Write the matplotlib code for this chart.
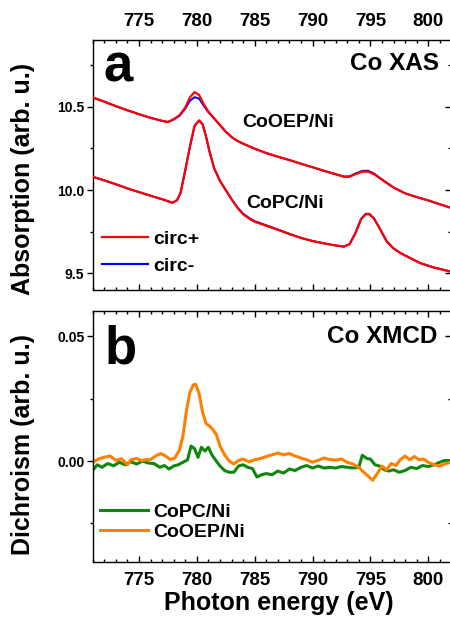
import numpy as np
import matplotlib
matplotlib.use("Agg")
import matplotlib.pyplot as plt
from matplotlib.ticker import MultipleLocator, FormatStrFormatter

plt.rcParams['font.family'] = ['Liberation Sans', 'DejaVu Sans']
plt.rcParams['font.weight'] = 'bold'

# ---- XAS (panel a) ----
e_oep = [771.0, 772.0, 773.0, 774.0, 775.0, 776.0, 777.0, 777.5, 778.0, 778.5,
         779.0, 779.4, 779.8, 780.2, 780.6, 781.0, 781.5, 782.0, 782.5, 783.0,
         783.5, 784.0, 785.0, 786.0, 787.0, 788.0, 789.0, 790.0, 791.0, 792.0,
         792.7, 793.2, 793.7, 794.3, 794.8, 795.3, 796.0, 797.0, 798.0, 799.0,
         800.0, 801.0, 802.0]
oep_plus = [10.555, 10.530, 10.503, 10.478, 10.455, 10.433, 10.415, 10.408, 10.425, 10.448,
            10.495, 10.555, 10.587, 10.570, 10.515, 10.470, 10.430, 10.390, 10.350, 10.318,
            10.295, 10.278, 10.248, 10.222, 10.200, 10.180, 10.158, 10.137, 10.115, 10.095,
            10.080, 10.080, 10.095, 10.110, 10.110, 10.096, 10.062, 10.015, 9.980, 9.958,
            9.938, 9.915, 9.893]
oep_minus = [10.555, 10.530, 10.503, 10.478, 10.455, 10.433, 10.415, 10.408, 10.423, 10.445,
             10.488, 10.535, 10.557, 10.548, 10.505, 10.466, 10.428, 10.389, 10.350, 10.318,
             10.295, 10.278, 10.248, 10.222, 10.200, 10.180, 10.158, 10.137, 10.115, 10.095,
             10.081, 10.082, 10.099, 10.115, 10.116, 10.100, 10.064, 10.016, 9.981, 9.958,
             9.938, 9.915, 9.893]

e_pc = [771.0, 772.0, 773.0, 774.0, 775.0, 776.0, 777.0, 777.9, 778.3, 778.6,
        779.0, 779.4, 779.8, 780.2, 780.5, 780.8, 781.1, 781.5, 782.0, 782.5,
        783.0, 783.5, 784.0, 784.5, 785.0, 786.0, 787.0, 788.0, 789.0, 790.0,
        791.0, 792.0, 792.7, 793.2, 793.7, 794.2, 794.6, 794.9, 795.3, 795.8,
        796.4, 797.0, 797.6, 798.5, 799.3, 800.5, 802.0]
pc_plus = [10.080, 10.058, 10.035, 10.010, 9.988, 9.966, 9.945, 9.924, 9.940, 9.985,
           10.120, 10.260, 10.385, 10.418, 10.395, 10.320, 10.230, 10.130, 10.055, 10.000,
           9.945, 9.895, 9.855, 9.830, 9.810, 9.786, 9.762, 9.736, 9.713, 9.694,
           9.680, 9.668, 9.661, 9.675, 9.740, 9.825, 9.855, 9.856, 9.830, 9.770,
           9.693, 9.650, 9.622, 9.590, 9.562, 9.535, 9.510]
pc_minus = [10.080, 10.058, 10.035, 10.010, 9.988, 9.966, 9.945, 9.924, 9.940, 9.985,
            10.118, 10.258, 10.383, 10.416, 10.394, 10.320, 10.230, 10.130, 10.055, 10.000,
            9.946, 9.897, 9.858, 9.834, 9.814, 9.789, 9.764, 9.738, 9.714, 9.695,
            9.681, 9.668, 9.661, 9.676, 9.742, 9.828, 9.858, 9.858, 9.832, 9.772,
            9.695, 9.651, 9.623, 9.591, 9.563, 9.536, 9.511]

# ---- XMCD (panel b), values in 1e-3 arb. u. ----
e_xmcd_oep = [771.0, 771.5, 772.0, 772.5, 773.0, 773.5, 774.0, 774.3, 774.8, 775.2,
              775.6, 776.0, 776.5, 776.9, 777.3, 777.7, 778.1, 778.5, 778.8, 779.1,
              779.4, 779.7, 779.9, 780.2, 780.5, 780.8, 781.1, 781.4, 781.7, 782.0,
              782.4, 782.8, 783.2, 783.6, 784.0, 784.5, 785.0, 785.5, 786.0, 786.5,
              787.0, 787.5, 788.0, 788.5, 789.0, 789.5, 790.0, 790.5, 791.0, 791.5,
              792.0, 792.5, 793.0, 793.5, 794.0, 794.4, 794.8, 795.2, 795.6, 796.0,
              796.4, 796.8, 797.2, 797.6, 798.0, 798.4, 798.8, 799.2, 799.6, 800.0,
              800.5, 801.0, 801.5, 802.0]
xmcd_oep = [-0.5, 0.8, 1.5, 2.0, 0.3, 0.9, -1.5, 0.5, 1.0, 0.2,
            0.5, 0.6, 2.2, 3.0, 2.0, 0.6, 1.2, 4.5, 10.0, 20.0,
            27.5, 30.5, 30.7, 27.0, 19.5, 15.0, 14.0, 12.5, 10.5, 6.0,
            2.5, 0.0, -1.2, 0.2, 0.8, -0.3, 0.5, 1.0, 1.8, 2.5,
            3.2, 2.5, 3.0, 2.0, 1.2, 0.5, -0.5, 0.3, 1.2, 0.6,
            0.4, 0.8, -0.5, -1.2, -2.5, -4.4, -6.0, -7.7, -5.0, -2.0,
            -3.5, -1.0, -1.8, 0.6, 2.0, 0.5, 1.8, 0.5, 0.8, -0.5,
            -1.5, -2.0, -1.0, -0.5]

e_xmcd_pc = [771.0, 771.4, 771.8, 772.3, 772.8, 773.3, 773.8, 774.3, 774.8, 775.3,
             775.8, 776.3, 776.8, 777.2, 777.6, 778.0, 778.4, 778.8, 779.2, 779.5,
             779.8, 780.1, 780.4, 780.7, 781.0, 781.3, 781.6, 782.0, 782.4, 782.8,
             783.2, 783.6, 784.0, 784.4, 784.8, 785.2, 785.6, 786.0, 786.5, 787.0,
             787.5, 788.0, 788.5, 789.0, 789.5, 790.0, 790.5, 791.0, 791.5, 792.0,
             792.5, 793.0, 793.5, 794.0, 794.3, 794.7, 795.0, 795.4, 795.8, 796.2,
             796.6, 797.0, 797.5, 798.0, 798.5, 799.0, 799.5, 800.0, 800.5, 801.0,
             801.4, 802.0]
xmcd_pc = [-3.7, -1.5, -2.5, -1.0, -1.9, -0.5, -1.5, -0.3, -1.2, 0.0,
           -0.8, -1.0, -2.5, -1.8, -3.2, -2.0, -1.5, -0.5, 0.5, 6.0,
           5.0, 1.5, 5.5, 4.0, 5.5, 2.5, 0.5, -2.0, -3.8, -4.5,
           -4.5, -2.0, -1.5, -2.5, -3.0, -6.4, -5.5, -5.0, -5.5, -4.0,
           -4.8, -3.2, -3.8, -2.5, -1.8, -2.8, -2.0, -2.8, -2.5, -2.8,
           -2.2, -2.5, -2.8, -2.5, 2.3, 1.0, 0.8, -1.5, -2.0, -3.5,
           -4.0, -3.5, -4.5, -3.8, -2.5, -3.0, -1.8, -2.2, -1.5, -0.5,
           0.2, 0.2]

xmajor = [775, 780, 785, 790, 795, 800]

fig = plt.figure(figsize=(4.5, 6.24), dpi=100)
ax1 = fig.add_axes([0.206, 0.535, 0.797, 0.401])
ax2 = fig.add_axes([0.206, 0.099, 0.797, 0.402])

# panel a
ax1.plot(e_oep, oep_minus, color='#0000ff', lw=1.4, zorder=2)
ax1.plot(e_pc, pc_minus, color='#0000ff', lw=1.4, zorder=2)
l_plus, = ax1.plot(e_oep, oep_plus, color='#ff0000', lw=1.6, zorder=3)
ax1.plot(e_pc, pc_plus, color='#ff0000', lw=1.6, zorder=3)
l_minus = plt.Line2D([], [], color='#0000ff', lw=1.6)
ax1.legend([l_plus, l_minus], ['circ+', 'circ-'], loc='upper left',
           bbox_to_anchor=(0.2267, 0.631), bbox_transform=fig.transFigure,
           frameon=False, borderpad=0, borderaxespad=0, fontsize=14,
           handlelength=2.37, handletextpad=0.26, labelspacing=0.48)
ax1.text(783.9, 10.406, 'CoOEP/Ni', fontsize=14, va='center', ha='left')
ax1.text(784.26, 9.922, 'CoPC/Ni', fontsize=14, va='center', ha='left')
ax1.set_xlim(771, 802)
ax1.set_ylim(9.40, 10.90)
ax1.set_yticks([9.5, 10.0, 10.5])
ax1.yaxis.set_minor_locator(MultipleLocator(0.25))
ax1.yaxis.set_major_formatter(FormatStrFormatter('%.1f'))

# panel b
l_pc, = ax2.plot(e_xmcd_pc, np.array(xmcd_pc) * 1e-3, color='#0f870f', lw=2.2)
l_oep, = ax2.plot(e_xmcd_oep, np.array(xmcd_oep) * 1e-3, color='#ff8000', lw=2.2)
ax2.legend([l_pc, l_oep], ['CoPC/Ni', 'CoOEP/Ni'], loc='upper left',
           bbox_to_anchor=(0.222, 0.193), bbox_transform=fig.transFigure,
           frameon=False, borderpad=0, borderaxespad=0, fontsize=14,
           handlelength=2.47, handletextpad=0.26, labelspacing=0.09)
ax2.set_xlim(771, 802)
ax2.set_ylim(-0.0405, 0.0599)
ax2.set_yticks([0.0, 0.05])
ax2.yaxis.set_minor_locator(MultipleLocator(0.025))
ax2.yaxis.set_major_formatter(FormatStrFormatter('%.2f'))

for ax, minor_step in ((ax1, 0.25), (ax2, 0.025)):
    ax.set_xticks(xmajor)
    ax.xaxis.set_minor_locator(MultipleLocator(1))
    ax.tick_params(axis='x', which='both', direction='in', top=True, bottom=True,
                   labelsize=13.5, pad=7, width=1)
    ax.tick_params(axis='x', which='major', length=4)
    ax.tick_params(axis='x', which='minor', length=2.5)
    ax.tick_params(axis='y', which='both', direction='out', left=True, right=False,
                   labelsize=10, pad=2, width=1)
    ax.tick_params(axis='y', which='major', length=4)
    ax.tick_params(axis='y', which='minor', length=2.5)
    for sp in ax.spines.values():
        sp.set_linewidth(1.0)
    sec = ax.secondary_yaxis('right')
    sec.set_yticks(ax.get_yticks())
    sec.yaxis.set_minor_locator(MultipleLocator(minor_step))
    sec.tick_params(which='both', direction='in', labelright=False, width=1)
    sec.tick_params(which='major', length=4)
    sec.tick_params(which='minor', length=2.5)

ax1.tick_params(axis='x', labeltop=True, labelbottom=False)
ax2.tick_params(axis='x', labeltop=False, labelbottom=True)

fig.text(0.229, 0.869, 'a', fontsize=38, va='baseline', ha='left')
fig.text(0.233, 0.418, 'b', fontsize=38, va='baseline', ha='left')
fig.text(0.976, 0.899, 'Co XAS', fontsize=17.5, va='center', ha='right')
fig.text(0.973, 0.4615, 'Co XMCD', fontsize=17.5, va='center', ha='right')
fig.text(0.051, 0.713, 'Absorption (arb. u.)', fontsize=18, rotation=90,
         va='center', ha='center')
fig.text(0.051, 0.287, 'Dichroism (arb. u.)', fontsize=18, rotation=90,
         va='center', ha='center')
fig.text(0.62, 0.022, 'Photon energy (eV)', fontsize=18, va='baseline', ha='center')

fig.savefig('out.png', dpi=100)
